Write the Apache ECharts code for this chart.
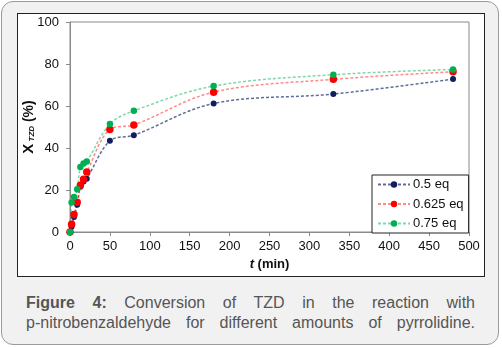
<!DOCTYPE html>
<html>
<head>
<meta charset="utf-8">
<script src="https://cdn.jsdelivr.net/npm/echarts@6/dist/echarts.min.js"></script>
<style>
  html, body { margin: 0; padding: 0; background: #ffffff; width: 502px; height: 348px; overflow: hidden; }
  #outer { position: absolute; left: 1px; top: 1px; width: 496px; height: 342px; border: 1.5px solid #9a9a9a; border-radius: 12px; background: #f1f1f1; }
  #inner { position: absolute; left: 17px; top: 13px; width: 466px; height: 262px; border: 1px solid #222; background: #ffffff; }
  #caption { position: absolute; left: 26px; top: 293px; width: 449px; font-family: "Liberation Sans", Arial, sans-serif; font-size: 16px; line-height: 19.5px; color: #555; text-align: justify; text-align-last: justify; }
  #chart { position: absolute; left: 0; top: 0; width: 502px; height: 348px; }
</style>
</head>
<body>
<div id="outer"></div>
<div id="inner"></div>
<div id="caption"><b>Figure 4:</b> Conversion of TZD in the reaction with<br>p-nitrobenzaldehyde for different amounts of pyrrolidine.</div>
<div id="chart"></div>
<script>
// time (min)
var times = [0, 2, 5, 9, 13, 17, 21, 50, 80, 180, 330, 480];
var seriesNames = ['0.5 eq', '0.625 eq', '0.75 eq'];
var conv05  = [0, 2.5, 7.2, 13.0, 21.5, 24.0, 25.4, 43.4, 46.1, 61.2, 65.7, 72.8];
var conv0625 = [0, 3.7, 8.3, 14.2, 22.3, 25.1, 28.6, 48.8, 51.0, 66.6, 72.7, 76.3];
var conv075 = [0, 14.0, 16.7, 20.4, 31.0, 32.6, 33.6, 51.4, 57.7, 69.5, 74.9, 77.4];

function pairs(xs, ys) { return xs.map(function (x, i) { return [x, ys[i]]; }); }

var chart = echarts.init(document.getElementById('chart'), null, { renderer: 'canvas' });
var font = '"Liberation Sans", Arial, sans-serif';
var axisColor = '#8a8a8a';

function mk(name, data, markerColor, lineColor, size) {
  return {
    name: name, type: 'line', data: data, smooth: 0.35,
    symbol: 'circle', symbolSize: size,
    itemStyle: { color: markerColor },
    lineStyle: { color: lineColor, width: 1.5, type: [3, 2] },
    emphasis: { disabled: true },
    animation: false
  };
}

chart.setOption({
  backgroundColor: 'transparent',
  animation: false,
  grid: { left: 70, top: 22, width: 399, height: 210, show: true, borderColor: axisColor, borderWidth: 1, backgroundColor: 'transparent' },
  xAxis: {
    type: 'value', min: 0, max: 500, interval: 50,
    axisLine: { show: true, lineStyle: { color: axisColor } },
    axisTick: { show: true, inside: false, length: 4, lineStyle: { color: axisColor } },
    splitLine: { show: false },
    axisLabel: { color: '#111', fontFamily: font, fontSize: 13, margin: 8 },
    name: '{t|t}{m| (min)}',
    nameLocation: 'middle', nameGap: 26, nameMoveOverlap: false,
    nameTextStyle: {
      rich: {
        t: { fontFamily: font, fontSize: 13, fontWeight: 'bold', fontStyle: 'italic', color: '#111' },
        m: { fontFamily: font, fontSize: 13, fontWeight: 'bold', color: '#111' }
      }
    }
  },
  yAxis: {
    type: 'value', min: 0, max: 100, interval: 20,
    axisLine: { show: true, lineStyle: { color: axisColor } },
    axisTick: { show: true, inside: false, length: 4, lineStyle: { color: axisColor } },
    splitLine: { show: false },
    axisLabel: { color: '#111', fontFamily: font, fontSize: 13, margin: 11 },
    name: '{x|X}{s| TZD}{p| (%)}',
    nameLocation: 'middle', nameRotate: 90, nameGap: 34, nameMoveOverlap: false,
    nameTextStyle: {
      rich: {
        x: { fontFamily: font, fontSize: 15, fontWeight: 'bold', color: '#111', lineHeight: 16, verticalAlign: 'bottom' },
        s: { fontFamily: font, fontSize: 8, fontWeight: 'bold', fontStyle: 'italic', color: '#111', lineHeight: 16, verticalAlign: 'bottom' },
        p: { fontFamily: font, fontSize: 14, fontWeight: 'bold', color: '#111', lineHeight: 16, verticalAlign: 'bottom' }
      }
    }
  },
  legend: {
    show: true, orient: 'vertical', left: 372, top: 175,
    data: seriesNames,
    backgroundColor: '#ffffff', borderColor: '#222', borderWidth: 1,
    padding: [3, 5, 3, 5], itemGap: 6.5, itemWidth: 32, itemHeight: 8,
    textStyle: { fontFamily: font, fontSize: 13, color: '#111', padding: [0, 0, 0, -2] },
    selectedMode: false
  },
  series: [
    mk(seriesNames[0], pairs(times, conv05), '#0f1f5c', 'rgba(40,60,120,0.75)', 6),
    mk(seriesNames[1], pairs(times, conv0625), '#ff0000', 'rgba(255,60,60,0.6)', 7.5),
    mk(seriesNames[2], pairs(times, conv075), '#00b050', 'rgba(40,190,110,0.6)', 6.5)
  ]
});
</script>
</body>
</html>
